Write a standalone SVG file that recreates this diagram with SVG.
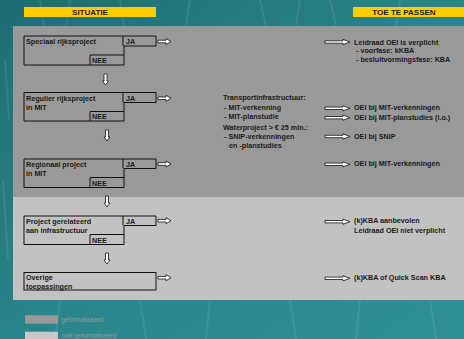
<svg xmlns="http://www.w3.org/2000/svg" width="464" height="339" viewBox="0 0 464 339">
<defs>
<linearGradient id="bg" x1="0" y1="0" x2="1" y2="1">
<stop offset="0" stop-color="#1f6c73"/>
<stop offset="0.5" stop-color="#2a848b"/>
<stop offset="1" stop-color="#2f8f95"/>
</linearGradient>
<path id="ra" d="M0,-1.3 H8 V-3 L13,0 L8,3 V1.3 H0 Z"/>
<path id="la" d="M0,-1.2 H18 V-2.6 L25,0 L18,2.6 V1.2 H0 Z"/>
<path id="da" d="M-1.5,0 V7 H-3 L0,11 L3,7 H1.5 V0 Z"/>
<style>
.t{font-family:"Liberation Sans",Arial,sans-serif;font-weight:bold;font-size:7.2px;fill:#1a1a1a}
.h{font-family:"Liberation Sans",Arial,sans-serif;font-weight:bold;font-size:8px;fill:#1e1e1e;text-anchor:middle}
.lg{font-family:"Liberation Sans",Arial,sans-serif;font-size:6.4px;fill:#8e9ba0}
.box{fill:none;stroke:#111;stroke-width:1}
.arr{fill:#fff;stroke:#111;stroke-width:0.8}
</style>
</defs>
<rect width="464" height="339" fill="url(#bg)"/>
<g opacity="0.12" stroke="#9fe0e0" stroke-width="2">
<path d="M40,0 L44,26 M70,0 L66,26 M120,0 L124,26 M190,0 L186,26 M260,0 L266,26 M300,0 L296,26 M330,0 L336,26 M400,0 L396,26 M5,60 L9,120 M3,180 L8,260 M60,300 L55,339 M140,300 L146,339 M210,300 L206,339 M290,300 L296,339 M360,300 L356,339 M430,300 L436,339"/>
</g>
<rect x="13" y="26" width="451" height="171" fill="#999999"/>
<rect x="13" y="197" width="451" height="103" fill="#c2c2c2"/>
<g id="hdr-situatie">
<rect x="24" y="7" width="132" height="10" fill="#ffcc00"/>
<text class="h" x="90" y="14.5">SITUATIE</text>
</g>
<g id="hdr-toe">
<rect x="353" y="7" width="111" height="10" fill="#ffcc00"/>
<text class="h" x="404" y="14.5">TOE TE PASSEN</text>
</g>
<g id="n1">
<path class="box" d="M24,36 H156 V46 H124 V65 H24 Z M123,36 V46 M90,55 H124 M90,55 V65"/>
<text class="t" x="26" y="44">Speciaal rijksproject</text>
<text class="t" x="126" y="44">JA</text>
<text class="t" x="92" y="62.5">NEE</text>
</g>
<g id="n2">
<path class="box" d="M24,92.5 H156 V102.5 H124 V121 H24 Z M123,92.5 V102.5 M90,111.5 H124 M90,111.5 V121"/>
<text class="t" x="26" y="100.5">Regulier rijksproject</text>
<text class="t" x="26" y="110">in MIT</text>
<text class="t" x="126" y="100.5">JA</text>
<text class="t" x="92" y="119">NEE</text>
</g>
<g id="n3">
<path class="box" d="M24,159 H156 V168.5 H124 V187.5 H24 Z M123,159 V168.5 M90,177.5 H124 M90,177.5 V187.5"/>
<text class="t" x="26" y="166.5">Regionaal project</text>
<text class="t" x="26" y="176">in MIT</text>
<text class="t" x="126" y="166.5">JA</text>
<text class="t" x="92" y="185.5">NEE</text>
</g>
<g id="n4">
<path class="box" d="M24,216 H156 V225.5 H124 V244.5 H24 Z M123,216 V225.5 M90,234.5 H124 M90,234.5 V244.5"/>
<text class="t" x="26" y="223.5">Project gerelateerd</text>
<text class="t" x="26" y="233">aan infrastructuur</text>
<text class="t" x="126" y="223.5">JA</text>
<text class="t" x="92" y="242.5">NEE</text>
</g>
<g id="n5">
<rect class="box" x="24" y="272.5" width="132" height="17.5"/>
<text class="t" x="26" y="279.5">Overige</text>
<text class="t" x="26" y="288.5">toepassingen</text>
</g>
<g id="mid">
<text class="t" x="223" y="100">Transportinfrastructuur:</text>
<text class="t" x="224" y="110">- MIT-verkenning</text>
<text class="t" x="224" y="118.5">- MIT-planstudie</text>
<text class="t" x="223" y="129.5">Waterproject &gt; € 25 mln.:</text>
<text class="t" x="224" y="138.5">- SNIP-verkenningen</text>
<text class="t" x="229" y="147.5">en -planstudies</text>
</g>
<g id="out">
<text class="t" x="354" y="44.5">Leidraad OEI is verplicht</text>
<text class="t" x="356" y="53">- voorfase: kKBA</text>
<text class="t" x="356" y="62">- besluitvormingsfase: KBA</text>
<text class="t" x="354" y="110">OEI bij MIT-verkenningen</text>
<text class="t" x="354" y="119.5">OEI bij MIT-planstudies (i.o.)</text>
<text class="t" x="354" y="138.5">OEI bij SNIP</text>
<text class="t" x="354" y="166">OEI bij MIT-verkenningen</text>
<text class="t" x="354" y="223">(k)KBA  aanbevolen</text>
<text class="t" x="354" y="233">Leidraad OEI niet verplicht</text>
<text class="t" x="354" y="279.5">(k)KBA of Quick Scan KBA</text>
</g>
<g id="connectors">
<use href="#ra" class="arr" x="158" y="41.5"/>
<use href="#ra" class="arr" x="158" y="98.3"/>
<use href="#ra" class="arr" x="158" y="164"/>
<use href="#ra" class="arr" x="158" y="220.7"/>
<use href="#ra" class="arr" x="158" y="277.7"/>
<use href="#da" class="arr" x="105.5" y="74"/>
<use href="#da" class="arr" x="107" y="130"/>
<use href="#da" class="arr" x="107" y="196"/>
<use href="#da" class="arr" x="107" y="253"/>
<use href="#la" class="arr" x="325" y="42"/>
<use href="#la" class="arr" x="325" y="108.3"/>
<use href="#la" class="arr" x="325" y="117.7"/>
<use href="#la" class="arr" x="325" y="136.5"/>
<use href="#la" class="arr" x="325" y="164.3"/>
<use href="#la" class="arr" x="325" y="221.7"/>
<use href="#la" class="arr" x="325" y="278.3"/>
</g>
<g id="legend">
<rect x="25" y="315.3" width="33" height="8.4" fill="#999999"/>
<text class="lg" x="61" y="321.7">geformaliseerd</text>
<rect x="25" y="331.7" width="33" height="7.3" fill="#c8c8c8"/>
<text class="lg" x="62" y="337.8">niet geformaliseerd</text>
</g>
</svg>
